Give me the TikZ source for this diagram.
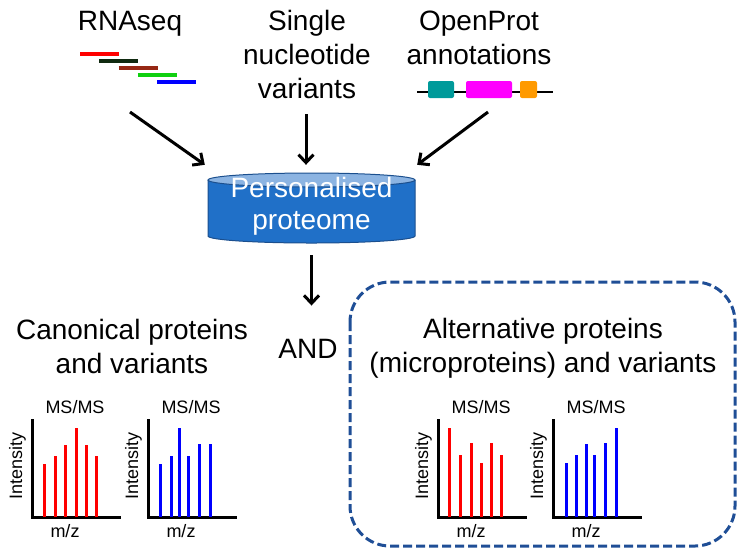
\documentclass[tikz,border=0pt]{standalone}
\usepackage{fontspec}
\setmainfont{Liberation Sans}
\definecolor{DBBlue}{HTML}{2070C8}
\definecolor{DBEdge}{HTML}{1B4F8E}
\definecolor{DBTop}{HTML}{8CB4E2}
\definecolor{BoxBlue}{HTML}{1F4E96}
\definecolor{ReadBlack}{HTML}{102A10}
\definecolor{ReadBrown}{HTML}{962814}
\definecolor{ReadGreen}{HTML}{10D010}
\definecolor{ExonTeal}{HTML}{009A9A}
\definecolor{ExonPink}{HTML}{FF00FF}
\definecolor{ExonOrange}{HTML}{FF9A00}
\usetikzlibrary{arrows.meta, positioning, calc}
\tikzset{
    title/.style={
        font=\fontsize{28}{34}\selectfont,
        align=center,
        inner sep=0pt,
        anchor=base
    },
    mslabel/.style={
        font=\fontsize{18}{20}\selectfont,
        inner sep=0pt
    },
    arrow/.style={
        -{Straight Barb[length=8pt,width=15pt]},
        line width=3pt,
        black
    },
    read/.style={line width=4pt, #1},
    exon/.style={fill=#1, rounded corners=2pt},
    axis/.style={line width=3pt, black},
    peak/.style={line width=3pt, #1},
    dashbox/.style={
        draw=BoxBlue,
        line width=3pt,
        dash pattern=on 9pt off 4pt,
        rounded corners=40pt
    }
}
\begin{document}
\begin{tikzpicture}[x=1pt, y=-1pt]
    \useasboundingbox (0,0) rectangle (746,558);

    % sources (base = last line)
    \node[title] (rnaseq) at (130,30) {RNAseq};
    \node[title] (snv) at (307,98) {Single\\nucleotide\\variants};
    \node[title] (openprot) at (479,64) {OpenProt\\annotations};

    \foreach \c [count=\k from 0] in {red,ReadBlack,ReadBrown,ReadGreen,blue}
        \draw[read=\c] (80+19.3*\k,54+7*\k) -- ++(39,0);

    \draw[line width=2pt] (417,92) -- (553,92);
    \fill[exon=ExonTeal] (428,81) rectangle (454,98);
    \fill[exon=ExonPink] (466,81) rectangle (512,98);
    \fill[exon=ExonOrange] (520,81) rectangle (537,98);

    % database
    \node[minimum width=207pt, minimum height=70pt, inner sep=0pt] (db) at (311.5,208) {};
    \fill[DBBlue] (208,180) -- (208,236) arc[start angle=180, end angle=0, x radius=103.5, y radius=7] -- (415,180) -- cycle;
    \draw[DBEdge, line width=1pt] (208,180) -- (208,236) arc[start angle=180, end angle=0, x radius=103.5, y radius=7] -- (415,180);
    \draw[DBEdge, line width=1pt, fill=DBTop] (311.5,180) ellipse[x radius=103.5, y radius=7];
    \node[title, text=white, font=\fontsize{28}{32}\selectfont] (dbtext) at (311.5,229) {Personalised\\proteome};

    \coordinate (rnatail) at (130,112);
    \coordinate (snvtail) at (306,114);
    \coordinate (optail) at (488,112);
    \coordinate (dbin) at ([yshift=8pt]db.north);
    \draw[arrow] (rnatail) -- ([xshift=-3pt, yshift=8pt]db.north west);
    \draw[arrow] (snvtail) -- (snvtail |- dbin);
    \draw[arrow] (optail) -- ([xshift=2pt, yshift=8pt]db.north east);

    % results
    \node[title] (and) at (308,358) {AND};
    \node[title] (canon) at (132,373) {Canonical proteins\\and variants};
    \node[title] (alt) at (543,372) {Alternative proteins\\(microproteins) and variants};
    \draw[arrow] ([yshift=-12pt]db.south) -- ([yshift=33pt]db.south |- and.north);
    \draw[dashbox] (350,282) rectangle (735,546);

    % MS/MS spectra
    \foreach \ox/\col/\bars [count=\i] in {
        32/red/{12/53,23/61,33/72,44/89,54/72,64/61},
        148/blue/{12/53,23/61,31/89,40/61,51/73,62/73},
        438/red/{11/89,22/62,33/74,43/54,53/74,63/62},
        553/blue/{13/54,23/62,33/73,41/62,52/74,63/89}}
    {
        \draw[axis] (\ox,419) -- (\ox,517) -- (\ox+89,517);
        \foreach \bx/\bh in \bars
            \draw[peak=\col] (\ox+\bx,517) -- ++(0,-\bh);
        \node[mslabel] (ms\i) at (\ox+43,407) {MS/MS};
        \node[mslabel, rotate=90] (int\i) at (\ox-14.5,466) {Intensity};
        \node[mslabel] (mz\i) at (\ox+33,531) {m/z};
    }
\end{tikzpicture}
\end{document}
